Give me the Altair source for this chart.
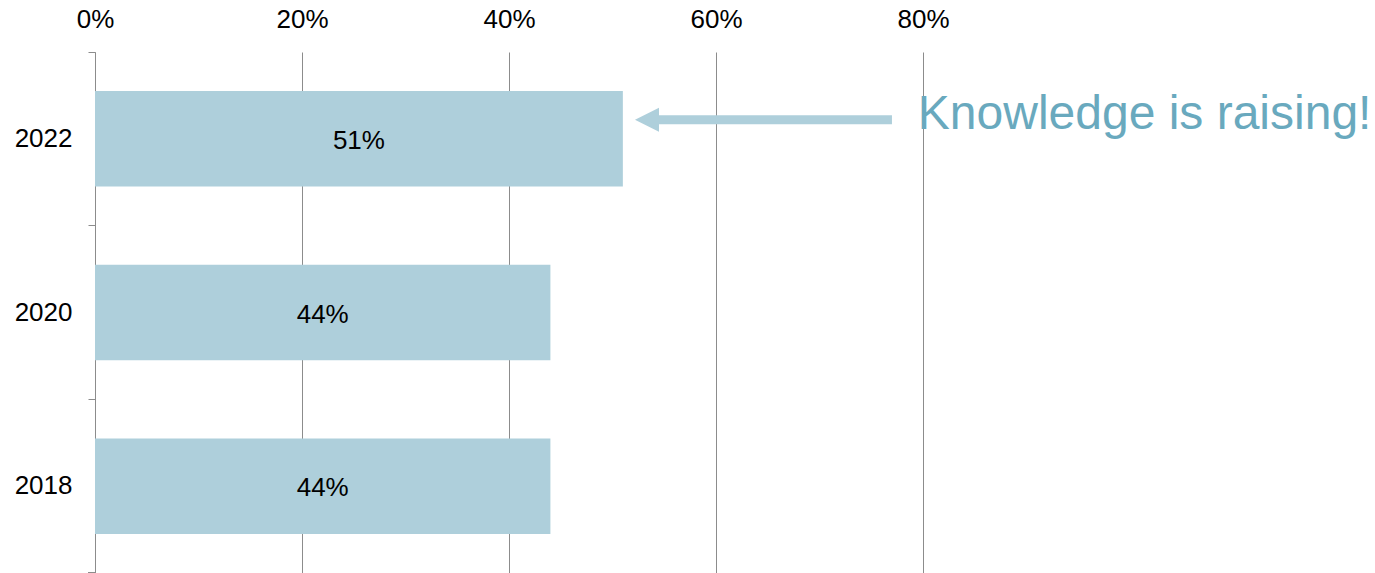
import altair as alt
import pandas as pd

# Share of respondents by survey year
years = ["2022", "2020", "2018"]
shares = [0.51, 0.44, 0.44]

note_text = "Knowledge is raising!"
tick_values = [0.0, 0.2, 0.4, 0.6, 0.8]

BAR = "#aecfdb"
NOTE = "#69a9be"
GRID = "#8c8c8c"
FONT = "Liberation Sans"

PAD_INNER = 0.45

df = pd.DataFrame({"year": years, "share": shares})

x_scale = alt.Scale(domain=[0, 1.2367], nice=False, zero=True)
y_scale = alt.Scale(domain=years, paddingInner=PAD_INNER, paddingOuter=PAD_INNER / 2)

base = alt.Chart(df)

bars = base.mark_bar(color=BAR).encode(
    x=alt.X(
        "share:Q",
        scale=x_scale,
        axis=alt.Axis(
            orient="top",
            values=tick_values,
            format=".0%",
            title=None,
            domain=False,
            ticks=False,
            grid=True,
            gridColor=GRID,
            gridWidth=1,
            labelFont=FONT,
            labelFontSize=26,
            labelColor="#000000",
            labelPadding=20,
            labelFlush=False,
        ),
    ),
    y=alt.Y(
        "year:N",
        scale=y_scale,
        sort=years,
        axis=alt.Axis(
            title=None,
            domainColor=GRID,
            domainWidth=1,
            tickColor=GRID,
            tickSize=7,
            # ticks sit on the boundaries between category slots
            bandPosition=-(PAD_INNER / 2) / (1 - PAD_INNER),
            labelFont=FONT,
            labelFontSize=26,
            labelColor="#000000",
            labelPadding=16,
            grid=False,
        ),
    ),
)

labels = base.transform_calculate(mid="datum.share / 2").mark_text(
    font=FONT, fontSize=26, color="#000000", baseline="middle", align="center", dy=2
).encode(
    x=alt.X("mid:Q", scale=x_scale),
    y=alt.Y("year:N", scale=y_scale, sort=years),
    text=alt.Text("share:Q", format=".0%"),
)

# Arrow pointing from the note back to the latest bar
top = base.transform_filter(alt.datum.year == years[0])

arrow_shaft = top.mark_rule(color=BAR, strokeWidth=9, yOffset=-19).encode(
    x=alt.datum(0.535),
    x2=alt.datum(0.770),
    y=alt.Y("year:N", scale=y_scale, sort=years),
)

arrow_head = top.mark_point(
    shape="M-1,0L1,-1L1,1Z", filled=True, opacity=1, color=BAR, size=576, yOffset=-19
).encode(
    x=alt.datum(0.5333),
    y=alt.Y("year:N", scale=y_scale, sort=years),
)

note = top.mark_text(
    text=note_text, font=FONT, fontSize=48, color=NOTE, align="left",
    baseline="alphabetic", yOffset=-10,
).encode(
    x=alt.datum(0.795),
    y=alt.Y("year:N", scale=y_scale, sort=years),
)

# Closing tick at the bottom of the category axis
bottom_tick = top.mark_rule(color=GRID, strokeWidth=1).encode(
    x=alt.value(-7), x2=alt.value(0), y=alt.value(520.5)
)

chart = (
    alt.layer(bars, labels, arrow_shaft, arrow_head, note, bottom_tick)
    .properties(
        width=1280,
        height=521,
        autosize=alt.AutoSizeParams(type="none"),
        padding={"left": 95, "top": 52, "right": 0, "bottom": 0},
        background="#ffffff",
    )
    .configure_view(stroke=None)
)

chart.save("out.html", embed_options={"renderer": "svg", "actions": False})
